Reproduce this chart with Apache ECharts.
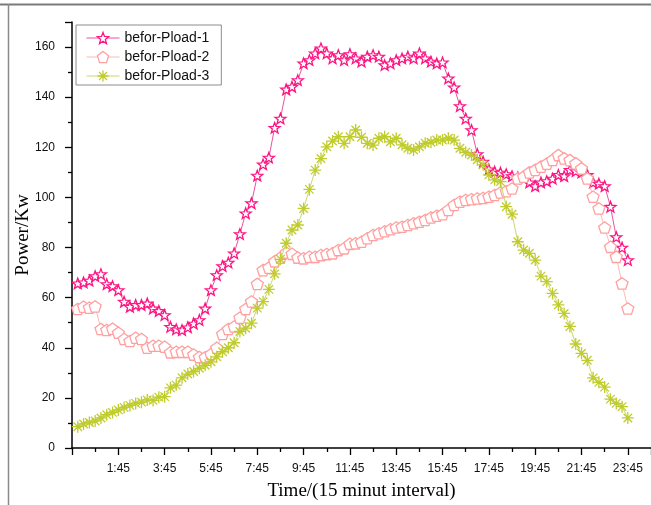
<!DOCTYPE html>
<html>
<head>
<meta charset="utf-8">
<script src="https://cdn.jsdelivr.net/npm/echarts@6/dist/echarts.min.js"></script>
<style>
  html, body { margin: 0; padding: 0; background: #fff; }
  #chart { width: 651px; height: 505px; }
</style>
</head>
<body>
<div id="chart"></div>
<script>
// Load profiles sampled every 15 minutes (slot 1 = 0:00 ... slot 96 = 23:45)
const seriesNames = ['befor-Pload-1', 'befor-Pload-2', 'befor-Pload-3'];

const pload1 = [
  65.7, 66.1, 66.8, 68.6, 69.4, 65.4, 64.6, 63.0, 58.4, 56.4, 57.1, 57.1,
  57.7, 55.7, 54.7, 53.1, 48.4, 47.4, 47.1, 48.2, 49.7, 51.1, 55.7, 63.0,
  69.0, 72.6, 74.0, 77.7, 85.4, 93.7, 97.7, 108.7, 113.2, 115.9, 127.8, 131.5,
  143.1, 144.2, 146.8, 153.5, 154.8, 157.5, 159.5, 157.5, 155.5, 156.8, 154.8, 157.2,
  155.5, 154.2, 156.2, 156.8, 156.2, 152.8, 153.5, 154.8, 155.5, 156.2, 155.5, 157.5,
  155.5, 154.2, 153.5, 153.9, 147.5, 143.9, 136.5, 131.5, 126.9, 117.3, 114.3, 111.2,
  110.3, 109.9, 109.3, 108.5, 108.0, 107.5, 106.0, 104.5, 106.0, 106.5, 107.5, 109.0,
  108.5, 111.0, 110.5, 110.0, 109.0, 106.0, 105.5, 104.5, 96.3, 84.2, 80.0, 75.0
];

const pload2 = [
  55.5, 56.4, 56.0, 56.5, 47.5, 47.1, 47.6, 46.0, 43.5, 42.7, 44.0, 43.5,
  40.0, 40.8, 40.8, 40.4, 38.2, 38.4, 38.4, 38.4, 37.3, 36.3, 36.2, 37.5,
  40.0, 45.5, 47.5, 48.5, 52.0, 55.5, 58.5, 65.5, 71.0, 72.0, 74.5, 76.0,
  78.0, 77.5, 76.0, 75.7, 76.3, 76.3, 77.0, 77.4, 77.7, 79.0, 79.7, 81.5,
  81.7, 82.3, 83.7, 85.0, 85.7, 86.5, 87.3, 88.0, 88.3, 89.0, 89.7, 90.3,
  91.0, 92.0, 92.7, 93.3, 95.0, 97.0, 98.3, 99.0, 99.3, 99.6, 99.8, 100.3,
  101.0, 102.0, 102.5, 103.6, 107.6, 108.3, 110.0, 111.0, 112.3, 113.5, 115.0, 116.9,
  115.6, 114.9, 113.6, 111.6, 107.6, 100.3, 95.6, 88.0, 80.3, 76.3, 65.7, 55.7
];

const pload3 = [
  8.5, 9.6, 10.2, 10.8, 12.0, 13.3, 14.2, 15.2, 16.2, 17.0, 17.8, 18.3,
  19.2, 19.0, 20.3, 20.5, 24.0, 25.1, 28.0, 29.5, 30.5, 31.8, 33.0, 34.4,
  36.4, 38.4, 40.0, 42.0, 46.5, 47.8, 49.8, 55.8, 58.4, 63.3, 69.5, 75.3,
  81.7, 87.0, 89.0, 95.6, 103.2, 110.9, 115.5, 120.2, 122.5, 124.2, 121.6, 124.2,
  126.9, 124.0, 121.6, 120.9, 123.6, 124.2, 122.2, 123.6, 121.0, 119.6, 118.9, 120.2,
  121.6, 122.0, 122.9, 122.9, 123.6, 122.9, 119.6, 118.0, 116.9, 115.0, 113.0, 109.0,
  107.0, 106.3, 96.3, 93.3, 82.3, 79.0, 77.7, 75.0, 68.6, 66.4, 61.7, 57.1,
  53.7, 48.5, 41.5, 37.8, 35.0, 28.0, 26.2, 24.3, 19.5, 17.8, 16.5, 12.0
];

// x tick labels: slot n shows the clock time of that slot
const slotMinutes = 15;
function slotLabel(v) {
  if (v <= 0 || v > 96) return '';
  const m = (v - 1) * slotMinutes;
  const h = Math.floor(m / 60);
  const mm = m % 60;
  return h + ':' + (mm < 10 ? '0' : '') + mm;
}

// Marker outlines
function polygonPath(points, rOut, rIn) {
  const n = rIn ? points * 2 : points;
  let d = '';
  for (let k = 0; k < n; k++) {
    const r = rIn ? (k % 2 === 0 ? rOut : rIn) : rOut;
    const a = -Math.PI / 2 + k * Math.PI * 2 / n;
    const x = (r * Math.cos(a)).toFixed(3);
    const y = (r * Math.sin(a)).toFixed(3);
    d += (k === 0 ? 'M' : 'L') + x + ',' + y;
  }
  return 'path://' + d + 'Z';
}
const starSymbol = polygonPath(5, 10, 4.2);
const pentagonSymbol = polygonPath(5, 10);
const asteriskSymbol = 'path://M0,-10L0,10M-10,0L10,0M-7.07,-7.07L7.07,7.07M-7.07,7.07L7.07,-7.07';

function toPairs(arr) {
  return arr.map((v, i) => [i + 1, v]);
}

const styles = [
  { symbol: starSymbol, size: 11, stroke: '#FF1483', line: '#E8559F', data: pload1 },
  { symbol: pentagonSymbol, size: 12, stroke: '#FFA0A0', line: '#FFB8B8', data: pload2 },
  { symbol: asteriskSymbol, size: 12, stroke: '#BFCC2C', line: '#CBD86A', data: pload3 }
];

const chart = echarts.init(document.getElementById('chart'), null, { renderer: 'canvas' });

chart.setOption({
  animation: false,
  backgroundColor: '#fff',
  grid: { left: 72, right: 0, top: 22, bottom: 57, containLabel: false, outerBoundsMode: 'none' },
  legend: {
    orient: 'vertical',
    left: 76,
    top: 25,
    padding: [6, 12, 2, 10],
    itemGap: 5,
    itemWidth: 33,
    itemHeight: 14,
    borderColor: '#8c8c8c',
    borderWidth: 1,
    textStyle: { fontFamily: 'Liberation Sans, Arial', fontSize: 14, color: '#111' },
    data: styles.map((s, k) => ({
      name: seriesNames[k],
      itemStyle: { color: '#fff', borderColor: s.stroke, borderWidth: 1.3 },
      lineStyle: { color: s.line, width: 1 }
    }))
  },
  xAxis: {
    type: 'value',
    min: 0,
    max: 100,
    interval: 8,
    name: 'Time/(15 minut interval)',
    nameLocation: 'middle',
    nameGap: 34,
    nameMoveOverlap: false,
    nameTextStyle: { fontFamily: 'Liberation Serif, Times New Roman', fontSize: 19, color: '#000' },
    axisLine: { show: true, lineStyle: { color: '#000', width: 1.5 } },
    axisTick: { show: true, length: 7, lineStyle: { color: '#000', width: 1.3 } },
    minorTick: { show: true, splitNumber: 2, length: 4, lineStyle: { color: '#000', width: 1.3 } },
    splitLine: { show: false },
    axisLabel: {
      formatter: slotLabel,
      showMaxLabel: false,
      margin: 15,
      fontFamily: 'Liberation Sans, Arial',
      fontSize: 12,
      color: '#111'
    }
  },
  yAxis: {
    type: 'value',
    min: 0,
    max: 170,
    interval: 20,
    name: 'Power/Kw',
    nameLocation: 'middle',
    nameGap: 39,
    nameMoveOverlap: false,
    nameTextStyle: { fontFamily: 'Liberation Serif, Times New Roman', fontSize: 19, color: '#000' },
    axisLine: { show: true, lineStyle: { color: '#000', width: 1.5 } },
    axisTick: { show: true, length: 7, lineStyle: { color: '#000', width: 1.3 } },
    minorTick: { show: true, splitNumber: 2, length: 4, lineStyle: { color: '#000', width: 1.3 } },
    splitLine: { show: false },
    axisLabel: {
      showMaxLabel: false,
      margin: 17,
      fontFamily: 'Liberation Sans, Arial',
      fontSize: 12,
      color: '#111'
    }
  },
  series: styles.map((s, k) => ({
    name: seriesNames[k],
    type: 'line',
    data: toPairs(s.data),
    symbol: s.symbol,
    symbolSize: s.size,
    symbolKeepAspect: true,
    showAllSymbol: true,
    color: s.stroke,
    lineStyle: { color: s.line, width: 1 },
    itemStyle: { color: '#fff', borderColor: s.stroke, borderWidth: 1.3 },
    emphasis: { disabled: true },
    z: 2 + k
  })),
  graphic: [
    { type: 'line', shape: { x1: 0, y1: 4.5, x2: 651, y2: 4.5 }, style: { stroke: '#7a7a7a', lineWidth: 2 }, silent: true },
    { type: 'line', shape: { x1: 8.5, y1: 4, x2: 8.5, y2: 505 }, style: { stroke: '#8a8a8a', lineWidth: 1.5 }, silent: true }
  ]
});
</script>
</body>
</html>
